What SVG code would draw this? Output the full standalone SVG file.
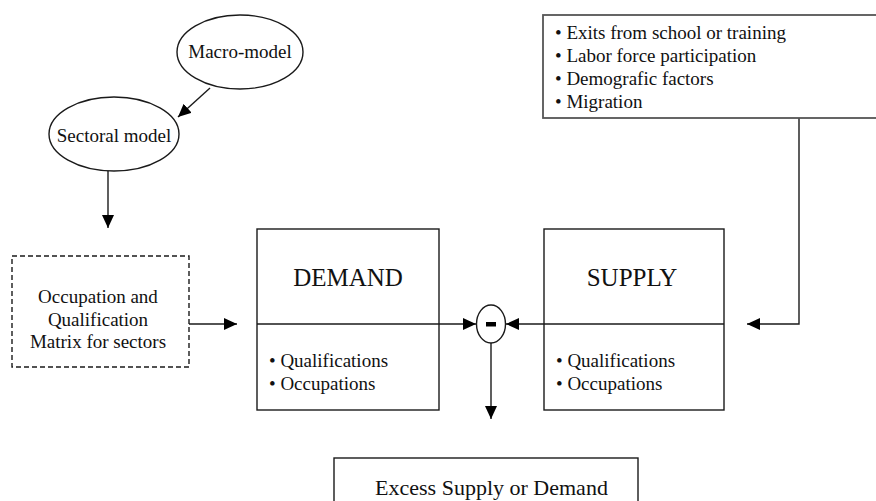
<svg xmlns="http://www.w3.org/2000/svg" width="876" height="501" viewBox="0 0 876 501">
  <style>
    .shape { fill: #fff; stroke: #1a1a1a; stroke-width: 1.4; }
    .open { fill: none; }
    .gray { stroke: #555; stroke-width: 1.8; }
    .dash { stroke-dasharray: 5 3; }
    text { font-family: "Liberation Serif", "Times New Roman", Times, serif; fill: #111; font-size: 19px; }
    .mid { text-anchor: middle; }
    .big { font-size: 25px; }
    .wire { fill: none; stroke: #1a1a1a; stroke-width: 1.4; }
  </style>
  <defs>
    <marker id="arrow" markerUnits="userSpaceOnUse" markerWidth="14" markerHeight="12" refX="13" refY="6" orient="auto">
      <path d="M0,0 L13,6 L0,12 Z" fill="#000"/>
    </marker>
  </defs>

  <rect width="876" height="501" fill="#fff"/>

  <!-- connectors -->
  <g id="connectors">
    <line class="wire" x1="210" y1="88" x2="178" y2="117" marker-end="url(#arrow)"/>
    <line class="wire gray" x1="108" y1="171" x2="108" y2="228" marker-end="url(#arrow)"/>
    <line class="wire" x1="189" y1="324" x2="237" y2="324" marker-end="url(#arrow)"/>
    <line class="wire" x1="257" y1="324" x2="476" y2="324" marker-end="url(#arrow)"/>
    <line class="wire" x1="724" y1="324" x2="506" y2="324" marker-end="url(#arrow)"/>
    <polyline class="wire gray" points="799,118 799,324 747,324" marker-end="url(#arrow)"/>
    <line class="wire" x1="491" y1="343" x2="491" y2="419" marker-end="url(#arrow)"/>
  </g>

  <g id="macro-model">
    <ellipse class="shape" cx="240" cy="52" rx="63" ry="37"/>
    <text class="mid" x="240" y="58">Macro-model</text>
  </g>

  <g id="sectoral-model">
    <ellipse class="shape" cx="114" cy="134" rx="65" ry="37"/>
    <text class="mid" x="114" y="142">Sectoral model</text>
  </g>

  <g id="matrix">
    <rect class="shape dash" x="12" y="256" width="177" height="111"/>
    <text class="mid" x="98" y="303">Occupation and</text>
    <text class="mid" x="98" y="326">Qualification</text>
    <text class="mid" x="98" y="348">Matrix for sectors</text>
  </g>

  <g id="demand">
    <rect class="shape open" x="257" y="229" width="182" height="181"/>
    <text class="mid big" x="348" y="286">DEMAND</text>
    <text x="269" y="367">• Qualifications</text>
    <text x="269" y="390">• Occupations</text>
  </g>

  <g id="supply">
    <rect class="shape open" x="544" y="229" width="180" height="181"/>
    <text class="mid big" x="632" y="286">SUPPLY</text>
    <text x="556" y="367">• Qualifications</text>
    <text x="556" y="390">• Occupations</text>
  </g>

  <g id="difference">
    <ellipse class="shape" cx="491" cy="324" rx="14.5" ry="19"/>
    <rect x="486" y="322" width="10" height="4.5" fill="#000"/>
  </g>

  <g id="supply-factors">
    <rect class="shape gray" x="543" y="15" width="345" height="103"/>
    <text x="555" y="39">• Exits from school or training</text>
    <text x="555" y="62">• Labor force participation</text>
    <text x="555" y="85">• Demografic factors</text>
    <text x="555" y="108">• Migration</text>
  </g>

  <g id="excess">
    <rect class="shape" x="334" y="458" width="304" height="60"/>
    <text class="mid" x="491.5" y="495" style="font-size:22px">Excess Supply or Demand</text>
  </g>
</svg>
